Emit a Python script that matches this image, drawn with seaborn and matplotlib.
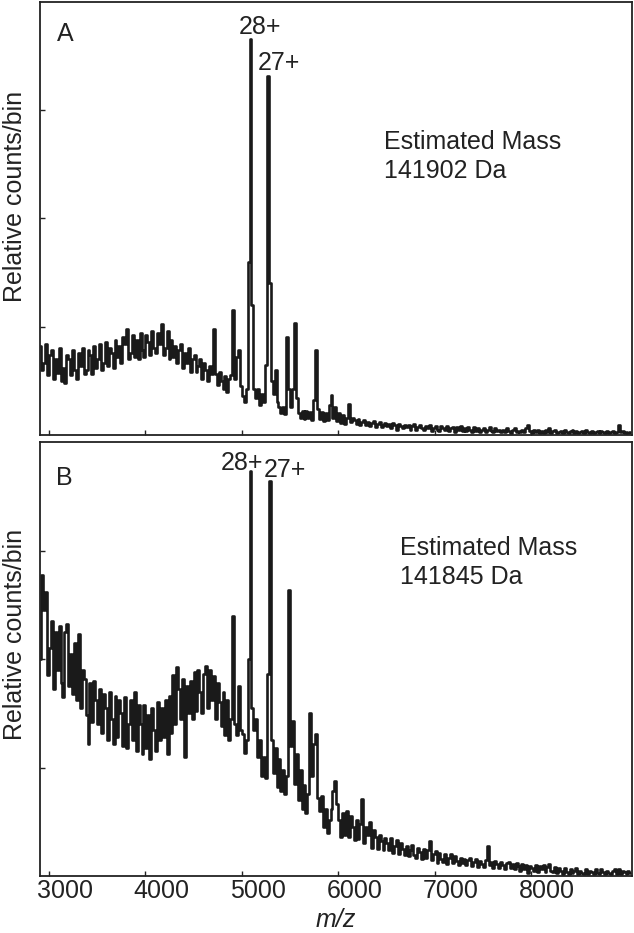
import numpy as np
import pandas as pd
import matplotlib
matplotlib.use("Agg")
import matplotlib.pyplot as plt
import matplotlib.transforms as mtransforms
import seaborn as sns

# ---------------- data (relative counts/bin, 20 Da bins starting at 2910 m/z) ----------------
mz_start = 2910
mz_step = 20

spectrum_a = [
    0.82, 0.60, 0.66, 0.84, 0.55, 0.74, 0.78, 0.52, 0.70, 0.57,   # 2910
    0.80, 0.50, 0.62, 0.48, 0.74, 0.70, 0.55, 0.78, 0.60, 0.52,   # 3110
    0.76, 0.64, 0.80, 0.56, 0.60, 0.78, 0.74, 0.56, 0.82, 0.62,   # 3310
    0.70, 0.84, 0.60, 0.66, 0.86, 0.64, 0.80, 0.76, 0.62, 0.88,   # 3510
    0.72, 0.82, 0.66, 0.90, 0.84, 0.98, 0.70, 0.76, 0.92, 0.72,   # 3710
    0.88, 0.70, 0.94, 0.78, 0.72, 0.92, 0.86, 0.74, 0.96, 0.80,   # 3910
    0.76, 0.94, 0.84, 1.02, 0.74, 0.80, 0.96, 0.70, 0.88, 0.72,   # 4110
    0.82, 0.66, 0.78, 0.84, 0.62, 0.76, 0.66, 0.80, 0.58, 0.70,   # 4310
    0.74, 0.58, 0.64, 0.70, 0.52, 0.66, 0.60, 0.50, 0.64, 0.56,   # 4510
    0.98, 0.56, 0.46, 0.58, 0.50, 0.42, 0.54, 0.40, 0.52, 0.55,   # 4710
    1.15, 0.52, 0.72, 0.78, 0.45, 0.36, 0.30, 0.42, 1.60, 3.65,   # 4910
    1.20, 0.42, 0.34, 0.42, 0.28, 0.38, 0.30, 0.65, 3.31, 1.40,   # 5110
    0.50, 0.38, 0.60, 0.30, 0.26, 0.20, 0.26, 0.19, 0.90, 0.42,   # 5310
    0.26, 0.42, 1.03, 0.34, 0.20, 0.16, 0.22, 0.15, 0.22, 0.16,   # 5510
    0.21, 0.14, 0.32, 0.78, 0.24, 0.15, 0.21, 0.13, 0.20, 0.14,   # 5710
    0.28, 0.37, 0.16, 0.26, 0.13, 0.20, 0.11, 0.18, 0.10, 0.16,   # 5910
    0.29, 0.12, 0.16, 0.14, 0.10, 0.15, 0.09, 0.12, 0.14, 0.09,   # 6110
    0.12, 0.08, 0.11, 0.13, 0.07, 0.10, 0.12, 0.07, 0.09, 0.11,   # 6310
    0.08, 0.10, 0.06, 0.11, 0.09, 0.05, 0.10, 0.08, 0.06, 0.09,   # 6510
    0.07, 0.09, 0.05, 0.08, 0.10, 0.05, 0.07, 0.09, 0.06, 0.05,   # 6710
    0.08, 0.06, 0.09, 0.04, 0.06, 0.08, 0.05, 0.04, 0.08, 0.06,   # 6910
    0.05, 0.08, 0.04, 0.06, 0.07, 0.03, 0.07, 0.05, 0.08, 0.04,   # 7110
    0.06, 0.04, 0.07, 0.05, 0.03, 0.07, 0.04, 0.06, 0.03, 0.05,   # 7310
    0.06, 0.03, 0.05, 0.07, 0.04, 0.03, 0.06, 0.04, 0.05, 0.03,   # 7510
    0.05, 0.03, 0.06, 0.04, 0.02, 0.05, 0.06, 0.03, 0.04, 0.03,   # 7710
    0.05, 0.03, 0.06, 0.09, 0.04, 0.02, 0.05, 0.03, 0.05, 0.02,   # 7910
    0.04, 0.02, 0.05, 0.03, 0.06, 0.02, 0.04, 0.05, 0.02, 0.03,   # 8110
    0.04, 0.02, 0.05, 0.03, 0.02, 0.04, 0.05, 0.02, 0.04, 0.02,   # 8310
    0.03, 0.04, 0.02, 0.05, 0.03, 0.02, 0.04, 0.02, 0.03, 0.04,   # 8510
    0.02, 0.04, 0.03, 0.02, 0.04, 0.02, 0.03, 0.04, 0.02, 0.03,   # 8710
    0.09, 0.03, 0.04, 0.02, 0.03, 0.02, 0.03,                     # 8910
]

spectrum_b = [
    2.00, 2.77, 2.45, 2.62, 1.85, 2.10, 2.35, 1.72, 2.25, 1.90,   # 2910
    2.30, 1.78, 1.65, 2.25, 2.32, 1.75, 2.05, 1.68, 2.15, 1.62,   # 3110
    2.23, 1.55, 1.90, 1.82, 1.48, 1.22, 1.78, 1.42, 1.80, 1.62,   # 3310
    1.40, 1.72, 1.32, 1.68, 1.55, 1.25, 1.70, 1.45, 1.22, 1.66,   # 3510
    1.28, 1.62, 1.50, 1.20, 1.65, 1.18, 1.40, 1.62, 1.25, 1.70,   # 3710
    1.15, 1.58, 1.40, 1.12, 1.58, 1.18, 1.48, 1.08, 1.55, 1.35,   # 3910
    1.15, 1.60, 1.25, 1.55, 1.28, 1.62, 1.12, 1.66, 1.32, 1.85,   # 4110
    1.40, 1.93, 1.72, 1.45, 1.82, 1.10, 1.75, 1.50, 1.80, 1.45,   # 4310
    1.88, 1.52, 1.90, 1.70, 1.50, 1.86, 1.94, 1.55, 1.90, 1.62,   # 4510
    1.84, 1.45, 1.78, 1.60, 1.38, 1.70, 1.30, 1.62, 1.25, 1.45,   # 4710
    2.40, 1.40, 1.30, 1.75, 1.35, 1.31, 1.13, 1.25, 2.00, 3.73,   # 4910
    1.55, 1.35, 1.45, 1.10, 1.25, 0.92, 1.10, 0.90, 1.86, 3.64,   # 5110
    1.25, 0.95, 1.18, 0.82, 1.08, 0.78, 0.98, 0.76, 0.92, 2.64,   # 5310
    1.20, 1.43, 0.85, 1.12, 0.70, 0.98, 0.62, 0.84, 0.58, 0.76,   # 5510
    1.50, 0.92, 1.22, 1.31, 0.72, 0.60, 0.74, 0.45, 0.62, 0.40,   # 5710
    0.52, 0.62, 0.78, 0.88, 0.66, 0.52, 0.36, 0.58, 0.38, 0.60,   # 5910
    0.36, 0.55, 0.45, 0.33, 0.52, 0.34, 0.48, 0.71, 0.30, 0.45,   # 6110
    0.38, 0.50, 0.26, 0.42, 0.36, 0.25, 0.38, 0.32, 0.24, 0.35,   # 6310
    0.30, 0.24, 0.35, 0.21, 0.28, 0.33, 0.20, 0.30, 0.25, 0.19,   # 6510
    0.28, 0.18, 0.24, 0.29, 0.19, 0.17, 0.26, 0.22, 0.16, 0.25,   # 6710
    0.17, 0.24, 0.32, 0.15, 0.20, 0.23, 0.12, 0.21, 0.16, 0.13,   # 6910
    0.20, 0.11, 0.17, 0.20, 0.12, 0.18, 0.14, 0.10, 0.17, 0.12,   # 7110
    0.16, 0.10, 0.15, 0.17, 0.09, 0.13, 0.16, 0.08, 0.14, 0.11,   # 7310
    0.08, 0.15, 0.28, 0.10, 0.13, 0.07, 0.14, 0.11, 0.07, 0.13,   # 7510
    0.10, 0.06, 0.12, 0.13, 0.07, 0.11, 0.06, 0.12, 0.09, 0.05,   # 7710
    0.11, 0.06, 0.10, 0.03, 0.09, 0.07, 0.05, 0.10, 0.04, 0.09,   # 7910
    0.06, 0.10, 0.04, 0.08, 0.11, 0.05, 0.04, 0.08, 0.03, 0.07,   # 8110
    0.05, 0.02, 0.07, 0.04, 0.02, 0.06, 0.03, 0.05, 0.07, 0.02,   # 8310
    0.05, 0.03, 0.02, 0.06, 0.02, 0.05, 0.04, 0.02, 0.06, 0.03,   # 8510
    0.02, 0.06, 0.04, 0.02, 0.05, 0.03, 0.02, 0.05, 0.06, 0.02,   # 8710
    0.06, 0.02, 0.05, 0.04, 0.02, 0.05, 0.03,                     # 8910
]

xticks = [3000, 4000, 5000, 6000, 7000, 8000]
xtick_labels = ["3000", "4000", "5000", "6000", "7000", "8000"]

panel_letters = ["A", "B"]
charge_labels = ["28+", "27+"]
mass_titles = ["Estimated Mass", "Estimated Mass"]
mass_values = ["141902 Da", "141845 Da"]

# ---------------- style ----------------
sns.set_style("ticks")
plt.rcParams["font.family"] = ["Liberation Sans", "DejaVu Sans"]
plt.rcParams["font.size"] = 18
ink = "#1a1a1a"
text_c = "#222222"

W, H = 634, 933
fig = plt.figure(figsize=(W / 100, H / 100), dpi=100)

def fx(px):
    return px / W

def fy(py):
    return 1 - py / H

ax_a = fig.add_axes([fx(40), fy(435), fx(632) - fx(40), fy(1.5) - fy(435)])
ax_b = fig.add_axes([fx(40), fy(876), fx(632) - fx(40), fy(442) - fy(876)])

XMIN, XMAX = 2907, 9047

for ax, spec in [(ax_a, spectrum_a), (ax_b, spectrum_b)]:
    mz = mz_start + mz_step * np.arange(len(spec))
    df = pd.DataFrame({"mz": mz, "counts": spec})
    sns.lineplot(data=df, x="mz", y="counts", ax=ax, color=ink, lw=1.9,
                 drawstyle="steps-mid", estimator=None)
    ax.set_xlim(XMIN, XMAX)
    ax.set_ylim(0, 4)
    ax.set_xticks(xticks)
    ax.set_yticks([1, 2, 3])
    ax.set_yticklabels([])
    ax.set_xlabel("")
    ax.set_ylabel("")
    for s in ax.spines.values():
        s.set_visible(True)
        s.set_linewidth(1.3)
        s.set_color("#222222")
    ax.tick_params(axis="both", direction="in", length=3.5, width=1.0,
                   color="#222222", labelcolor=text_c, labelsize=18, pad=2)

ax_a.set_xticklabels([])
ax_b.set_xticklabels(xtick_labels)
offset = mtransforms.ScaledTranslation(16 / 100, 0, fig.dpi_scale_trans)
for lab in ax_b.get_xticklabels():
    lab.set_transform(lab.get_transform() + offset)

# ---------------- annotations ----------------
kw = dict(color=text_c, fontsize=18, va="baseline")
ax_a.text(3166, 3.64, panel_letters[0], ha="center", **kw)
ax_a.text(5186, 3.70, charge_labels[0], ha="center", **kw)
ax_a.text(5386, 3.37, charge_labels[1], ha="center", **kw)
ax_a.text(6470, 2.64, mass_titles[0], ha="left", **kw)
ax_a.text(6470, 2.37, mass_values[0], ha="left", **kw)

ax_b.text(3156, 3.60, panel_letters[1], ha="center", **kw)
ax_b.text(5002, 3.74, charge_labels[0], ha="center", **kw)
ax_b.text(5448, 3.68, charge_labels[1], ha="center", **kw)
ax_b.text(6641, 2.96, mass_titles[1], ha="left", **kw)
ax_b.text(6641, 2.69, mass_values[1], ha="left", **kw)

fig.text(fx(14.6), fy(196), "Relative counts/bin", rotation=90, ha="center", va="center",
         color=text_c, fontsize=18)
fig.text(fx(14.6), fy(634), "Relative counts/bin", rotation=90, ha="center", va="center",
         color=text_c, fontsize=18)
fig.text(fx(336), fy(927), "m/z", style="italic", ha="center", va="baseline",
         color=text_c, fontsize=18)

fig.savefig("out.png", dpi=100)
